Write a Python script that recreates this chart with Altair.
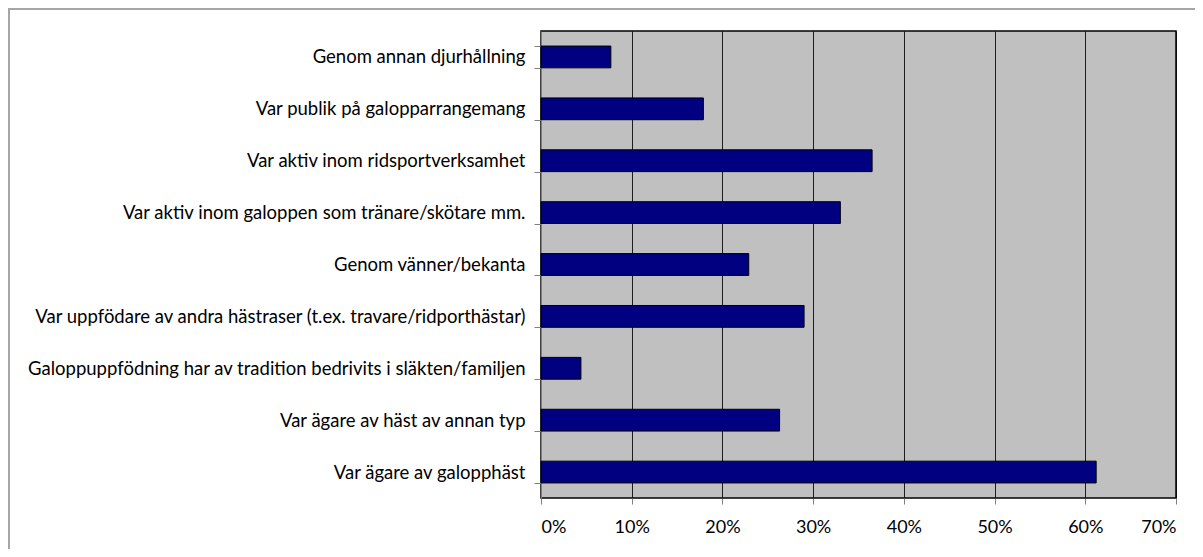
import altair as alt
import pandas as pd

categories = [
    "Genom annan djurhållning",
    "Var publik på galopparrangemang",
    "Var aktiv inom ridsportverksamhet",
    "Var aktiv inom galoppen som tränare/skötare mm.",
    "Genom vänner/bekanta",
    "Var uppfödare av andra hästraser (t.ex. travare/ridporthästar)",
    "Galoppuppfödning har av tradition bedrivits i släkten/familjen",
    "Var ägare av häst av annan typ",
    "Var ägare av galopphäst",
]
values = [0.077, 0.179, 0.365, 0.330, 0.229, 0.290, 0.044, 0.263, 0.612]
x_ticks = [0, 0.1, 0.2, 0.3, 0.4, 0.5, 0.6, 0.7]

df = pd.DataFrame({"cat": categories, "val": values})

FONT = "Lato"

bars = alt.Chart(df).mark_bar(
    color="#000080", stroke="#000000", strokeWidth=1
).encode(
    x=alt.X(
        "val:Q",
        scale=alt.Scale(domain=[0, 0.7], nice=False),
        axis=alt.Axis(
            values=x_ticks, format=".0%", title=None, grid=True,
            gridColor="#000000", gridWidth=1, gridOpacity=0.85,
            tickColor="#808080", tickSize=6, domain=False,
            labelFont=FONT, labelFontSize=18, labelColor="#000000",
            labelPadding=14,
        ),
    ),
    y=alt.Y(
        "cat:N",
        sort=categories,
        scale=alt.Scale(paddingInner=0.58, paddingOuter=0.29),
        axis=alt.Axis(
            title=None, tickBand="extent", tickColor="#808080", tickSize=7,
            domainColor="#808080", labelFont=FONT, labelFontSize=18.5,
            labelColor="#000000", labelPadding=9, labelLimit=600,
        ),
    ),
)

frame = alt.Chart(df).mark_rect(
    fill=None, stroke="#a6a6a6", strokeWidth=1.5, clip=False
).encode(
    x=alt.value(-532), x2=alt.value(720),
    y=alt.value(-22), y2=alt.value(600),
)

chart = alt.layer(frame, bars).properties(
    width=635, height=467,
    autosize=alt.AutoSizeParams(type="none"),
    padding={"left": 533, "top": 23, "right": 19, "bottom": 51},
    background="#ffffff",
).configure_view(
    fill="#c0c0c0", stroke="#000000", strokeWidth=1.5
)

chart.save("out.html", embed_options={"renderer": "svg", "actions": False})
